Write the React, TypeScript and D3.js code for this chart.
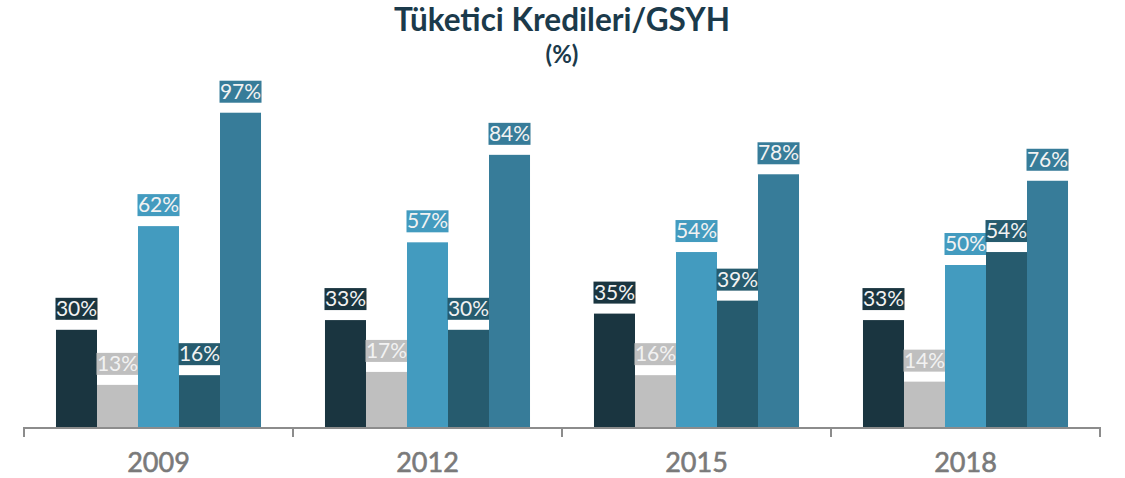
import React from "react";
import * as d3 from "d3";

const years = ["2009", "2012", "2015", "2018"];
const seriesKeys = ["s1", "s2", "s3", "s4", "s5"];
const seriesColors = ["#1a3540", "#bfbfbf", "#439bbf", "#265b6e", "#377c99"];
const s1 = [30, 33, 35, 33];
const s2 = [13, 17, 16, 14];
const s3 = [62, 57, 54, 50];
const s4 = [16, 30, 39, 54];
const s5 = [97, 84, 78, 76];
const seriesValues = [s1, s2, s3, s4, s5];

const W = 1125;
const H = 478;
const baseY = 427;
const font = "Lato, 'Open Sans', sans-serif";

export default function App() {
  const x0 = d3.scaleBand<string>().domain(years).range([24, 1100]).padding(0);
  const x1 = d3
    .scaleBand<string>()
    .domain(seriesKeys)
    .range([0, x0.bandwidth()])
    .paddingInner(0)
    .paddingOuter(0.78);
  const y = d3.scaleLinear().domain([0, 100]).range([baseY, baseY - 324]);

  const bw = x1.bandwidth();
  const ticks = [...years.map((yr) => x0(yr) as number), 1100];

  return (
    <svg width={W} height={H} style={{ position: "absolute", left: 0, top: 0, display: "block" }}>
      <rect width={W} height={H} fill="#ffffff" />
      <text x={562} y={31} textAnchor="middle" fontFamily={font} fontWeight={700} fontSize={31.5} fill="#1b3a4b">
        Tüketici Kredileri/GSYH
      </text>
      <text x={562} y={63} textAnchor="middle" fontFamily={font} fontWeight={700} fontSize={24} fill="#1b3a4b">
        (%)
      </text>
      {years.map((yr, i) => (
        <g key={yr}>
          {seriesKeys.map((k, j) => {
            const v = seriesValues[j][i];
            const bx = (x0(yr) as number) + (x1(k) as number);
            const by = y(v);
            const cx = bx + bw / 2;
            const boxW = 42;
            const boxH = 22;
            const boxBottom = by - 10;
            return (
              <g key={k}>
                <rect x={bx} y={by} width={bw} height={baseY - by} fill={seriesColors[j]} />
                <rect x={cx - boxW / 2} y={boxBottom - boxH} width={boxW} height={boxH} fill={seriesColors[j]} />
                <text
                  x={cx}
                  y={boxBottom - 4}
                  textAnchor="middle"
                  fontFamily={font}
                  fontSize={21}
                  fill="#f2f2f2"
                >
                  {v}%
                </text>
              </g>
            );
          })}
          <text
            x={(x0(yr) as number) + x0.bandwidth() / 2}
            y={472}
            textAnchor="middle"
            fontFamily={font}
            fontSize={27}
            fontWeight={400}
            fill="#7a7a7a"
            stroke="#7a7a7a"
            strokeWidth={0.6}
          >
            {yr}
          </text>
        </g>
      ))}
      <line x1={24} x2={1100} y1={baseY + 1} y2={baseY + 1} stroke="#8c8c8c" strokeWidth={2} />
      {ticks.map((t, i) => (
        <line key={i} x1={t} x2={t} y1={baseY} y2={baseY + 10} stroke="#8c8c8c" strokeWidth={2} />
      ))}
    </svg>
  );
}
